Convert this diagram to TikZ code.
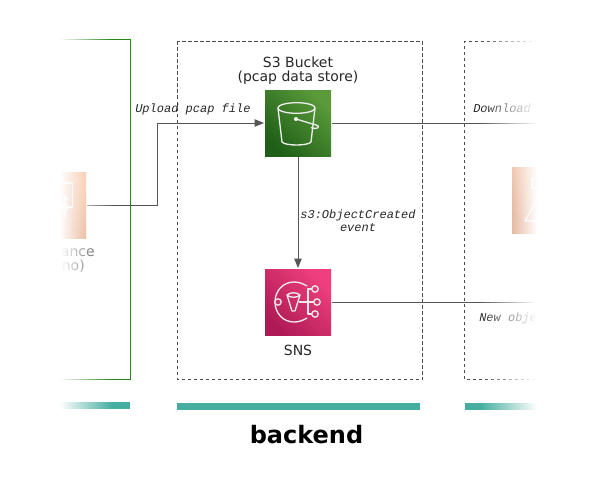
\documentclass[tikz,border=0pt]{standalone}
\usepackage{fontspec}
\setmainfont{DejaVu Sans}
\setmonofont{Liberation Mono}
\usepackage{xcolor}
\usetikzlibrary{arrows.meta, positioning, fadings}
\definecolor{wire}{HTML}{555555}
\definecolor{tealbar}{HTML}{45AEA0}
\definecolor{groupgreen}{HTML}{248814}
\definecolor{s3low}{HTML}{1F5F17}
\definecolor{s3high}{HTML}{5A9A3A}
\definecolor{snslow}{HTML}{AE1A55}
\definecolor{snshigh}{HTML}{F03F7E}
\definecolor{ec2low}{HTML}{C8622C}
\definecolor{ec2high}{HTML}{F2A06E}
\begin{document}
\begin{tikzpicture}[
    x=0.75pt, y=-0.75pt,
    node distance=3pt,
    icon/.style={minimum size=49.5pt, inner sep=0pt, outer sep=0.75pt},
    iconcap/.style={font=\fontsize{10.5pt}{10.8pt}\selectfont, align=center, text=black!85, inner sep=0pt},
    note/.style={font=\ttfamily\itshape\fontsize{9pt}{10pt}\selectfont, align=center, text=black!85, inner sep=0pt},
    arr/.style={-{Triangle[length=7pt, width=5.5pt]}, wire, line width=0.75pt},
    wireline/.style={wire, line width=0.75pt},
    glyph/.style={draw=white!92!black, line width=1pt, line join=round},
    grp/.style={black!70, dash pattern=on 2.6pt off 1.9pt, line width=0.6pt},
    bar/.style={fill=tealbar, draw=none}
]
\useasboundingbox (0,0) rectangle (592,478);

% groups
\draw[groupgreen, line width=0.75pt] (40,39.5) -- (130.5,39.5) -- (130.5,379.5) -- (40,379.5);
\draw[grp] (177.5,41.5) rectangle (422.5,379.5);
\draw[grp] (580,41.5) -- (464.5,41.5) -- (464.5,379.5) -- (580,379.5);
\fill[bar] (40,402) rectangle (130,409);
\fill[bar] (176.5,403) rectangle (419.5,410);
\fill[bar] (465,403) rectangle (580,410);

% services
\node (ec2) [icon, left color=ec2low, right color=ec2high, shading angle=135] at (53,205) {};
\node (s3) [icon, left color=s3low, right color=s3high, shading angle=135] at (298,123) {};
\node (sns) [icon, left color=snslow, right color=snshigh, shading angle=135] at (298,302) {};
\node (ec2b) [icon, left color=ec2low, right color=ec2high, shading angle=135] at (545,200.5) {};

% icon glyphs
\draw[glyph] (296.5,108) ellipse (18.7 and 5.3);
\draw[glyph] (278,108) -- (282,142) .. controls (285,146) and (308,146) .. (311,142) -- (315,108);
\draw[glyph] (296,119) -- (316,125) .. controls (322,127) and (316,130) .. (311,127.5);
\fill[white] (296,119) circle (2);

\draw[glyph] (307,286) .. controls (302,283) and (298,282) .. (294,282) .. controls (283,282) and (275,291) .. (275,302) .. controls (275,313) and (283,322) .. (294,322) .. controls (298,322) and (302,321) .. (307,318);
\draw[glyph, fill=snslow!50!snshigh] (278,302) circle (3.2);
\draw[glyph] (315,289) circle (3.2);
\draw[glyph] (317,302) circle (3.2);
\draw[glyph] (315,314) circle (3.2);
\draw[glyph] (312,289) -- (308,289) -- (308,314) -- (312,314) (299,302) -- (314,302);
\draw[glyph] (287,295) .. controls (290,298) and (297,298) .. (300,295) -- (295,311) -- (292,311) -- cycle;
\draw[glyph] (287,295) .. controls (290,292) and (297,292) .. (300,295);

\draw[glyph] (45,183) -- (72.5,183) -- (72.5,207) -- (45,207);
\draw[glyph] (65,195) -- (65,217) (62,199) -- (68,199) (62,204) -- (68,204) (62,209) -- (68,209);
\draw[glyph] (532,179) rectangle (545,188);
\draw[glyph] (525,221) -- (538,197) -- (551,221) -- cycle;

% connectors
\coordinate (s3out) at (580,123);
\coordinate (snsout) at (580,302);
\coordinate (bendlow) at (157,205);
\coordinate (bendhigh) at (157,123);
\draw[arr] (ec2.east) -- (bendlow) -- (bendhigh) -- (s3.west);
\draw[arr] (s3.south) -- (sns.north);
\draw[wireline] (s3.east) -- (s3out);
\draw[wireline] (sns.east) -- (snsout);

% labels
\node (s3cap) [iconcap, above=3.2pt of s3] {S3 Bucket\\(pcap data store)};
\node (snscap) [iconcap, below=6.5pt of sns] {SNS};
\node (ec2cap) [iconcap, align=right, anchor=north east] at (95,248) {ance\\no)\rule{7.5pt}{0pt}};
\node (uploadnote) [note, anchor=base west] at (135,112) {Upload pcap file};
\node (eventnote) [note] at (358,221) {s3:ObjectCreated\\event};
\node (downloadnote) [note, anchor=base west] at (473,112) {Download p};
\node (newnote) [note, anchor=base west] at (479,321) {New object};
\node (backend) [font=\bfseries\fontsize{18pt}{20pt}\selectfont, inner sep=0pt] at (306.5,434.5) {backend};

% edges of the crop
\fill[white, path fading=east] (60,20) rectangle (112,425);
\fill[white] (0,20) rectangle (60,425);
\fill[white, path fading=west] (480,20) rectangle (537,425);
\fill[white] (537,20) rectangle (592,425);
\end{tikzpicture}
\end{document}
